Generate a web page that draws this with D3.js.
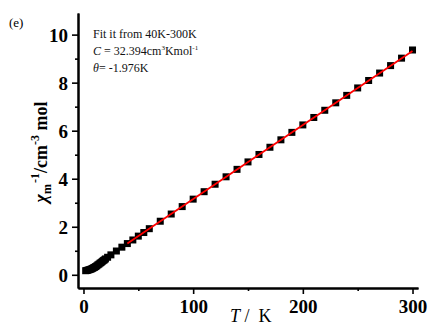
<!DOCTYPE html>
<html>
<head>
<meta charset="utf-8">
<script src="https://cdn.jsdelivr.net/npm/d3@7"></script>
<style>
	html, body { margin: 0; padding: 0; background: #fff; }
	svg { display: block; font-family: "Liberation Serif", "Times New Roman", serif; }
</style>
</head>
<body>
<svg id="chart" width="430" height="327"></svg>
<script>
(function(d3) {
	'use strict';

	// measured points, T in K and 1/chi in mol cm^-3
	var temps = [2, 3, 4, 5, 6, 7, 8, 9, 10, 11, 12, 13, 14, 15, 16, 17, 18, 19, 20, 22, 25,
		30, 35, 40, 45, 50, 55, 60, 70, 80, 90, 100, 110, 120, 130, 140, 150, 160, 170, 180,
		190, 200, 210, 220, 230, 240, 250, 260, 270, 280, 290, 300];
	var chiInv = [0.17, 0.18, 0.19, 0.21, 0.22, 0.24, 0.26, 0.29, 0.31, 0.34, 0.37, 0.41, 0.44, 0.48, 0.51, 0.55, 0.59, 0.62, 0.66, 0.73, 0.83,
		0.99, 1.15, 1.30, 1.45, 1.61, 1.76, 1.92, 2.23, 2.53, 2.84, 3.15, 3.46, 3.77, 4.08, 4.39, 4.70, 5.01, 5.31, 5.62,
		5.93, 6.24, 6.55, 6.85, 7.16, 7.47, 7.78, 8.09, 8.40, 8.71, 9.02, 9.36];

	// Curie-Weiss fit, 40K-300K
	var fitT = [40, 300];
	var fitChi = [1.30, 9.32];

	var xTicks = [0, 100, 200, 300];
	var xMinorTicks = [50, 150, 250];
	var yTicks = [0, 2, 4, 6, 8, 10];
	var yMinorTicks = [1, 3, 5, 7, 9];

	var serif = '"Liberation Serif", "Times New Roman", serif';
	var svg = d3.select('#chart');

	var x = d3.scaleLinear().domain([-5, 305]).range([78, 418]);
	var y = d3.scaleLinear().domain([-0.55, 10.9]).range([288, 13]);

	/** axes */
	var xAxis = d3.axisBottom(x).tickValues(xTicks).tickSize(6).tickPadding(6).tickSizeOuter(0);
	var xMinor = d3.axisBottom(x).tickValues(xMinorTicks).tickSize(3).tickFormat('').tickSizeOuter(0);
	var yAxis = d3.axisLeft(y).tickValues(yTicks).tickSize(6).tickPadding(4).tickSizeOuter(0);
	var yMinor = d3.axisLeft(y).tickValues(yMinorTicks).tickSize(3).tickFormat('').tickSizeOuter(0);

	var styleAxis = function(g) {
		g.attr('font-family', serif);
		g.selectAll('path').attr('stroke', '#000').attr('stroke-width', 2);
		g.selectAll('line').attr('stroke', '#000').attr('stroke-width', 1.6);
		g.selectAll('text').attr('fill', '#000').attr('font-family', serif)
			.attr('font-weight', 'bold').attr('font-size', 19);
	};

	svg.append('g').attr('transform', 'translate(0,' + y.range()[0] + ')').call(xMinor).call(styleAxis);
	svg.append('g').attr('transform', 'translate(0,' + y.range()[0] + ')').call(xAxis).call(styleAxis);
	svg.append('g').attr('transform', 'translate(' + x.range()[0] + ',0)').call(yMinor).call(styleAxis);
	svg.append('g').attr('transform', 'translate(' + x.range()[0] + ',0)').call(yAxis).call(styleAxis)
		.selectAll('text').attr('dy', '0.36em');

	/** data */
	var points = temps.map(function(t, i) {
		return { t: t, v: chiInv[i] };
	});
	var size = 7;
	svg.append('g').selectAll('rect').data(points).enter().append('rect')
		.attr('x', function(d) { return x(d.t) - size / 2; })
		.attr('y', function(d) { return y(d.v) - size / 2; })
		.attr('width', size).attr('height', size)
		.attr('fill', '#000');

	var fitLine = d3.line()
		.x(function(d) { return x(d.t); })
		.y(function(d) { return y(d.v); });
	svg.append('path')
		.datum(fitT.map(function(t, i) { return { t: t, v: fitChi[i] }; }))
		.attr('d', fitLine).attr('fill', 'none').attr('stroke', '#ff0000').attr('stroke-width', 1.8);

	/** labels */
	svg.append('text').attr('x', 9).attr('y', 27).attr('font-size', 13).attr('font-family', serif).text('(e)');

	var xLabel = svg.append('text').attr('x', 230).attr('y', 322).attr('font-size', 18)
		.attr('font-family', serif).style('white-space', 'pre');
	xLabel.append('tspan').attr('font-style', 'italic').text('T');
	xLabel.append('tspan').text(' /  K');

	var yLabel = svg.append('text').attr('transform', 'translate(47,152) rotate(-90)')
		.attr('text-anchor', 'middle').attr('font-size', 18).attr('font-weight', 'bold').attr('font-family', serif);
	yLabel.append('tspan').attr('font-style', 'italic').text('\u03c7');
	yLabel.append('tspan').attr('font-size', 12).attr('dy', 4).text('m');
	yLabel.append('tspan').attr('font-size', 12).attr('dy', -12).attr('dx', 1).text('-1');
	yLabel.append('tspan').attr('dy', 8).text('/cm');
	yLabel.append('tspan').attr('font-size', 12).attr('dy', -8).text('-3');
	yLabel.append('tspan').attr('dy', 8).text(' mol');

	var note = svg.append('g').attr('font-size', 12).attr('fill', '#111').attr('font-family', serif);
	note.append('text').attr('x', 93).attr('y', 38).text('Fit it from 40K-300K');
	var line2 = note.append('text').attr('x', 93).attr('y', 55);
	line2.append('tspan').attr('font-style', 'italic').text('C');
	line2.append('tspan').text(' = 32.394cm');
	line2.append('tspan').attr('font-size', 7).attr('dy', -5).text('3');
	line2.append('tspan').attr('dy', 5).text('Kmol');
	line2.append('tspan').attr('font-size', 7).attr('dy', -5).text('-1');
	var line3 = note.append('text').attr('x', 93).attr('y', 72);
	line3.append('tspan').attr('font-style', 'italic').text('\u03b8');
	line3.append('tspan').text('= -1.976K');
})(d3);
</script>
</body>
</html>
